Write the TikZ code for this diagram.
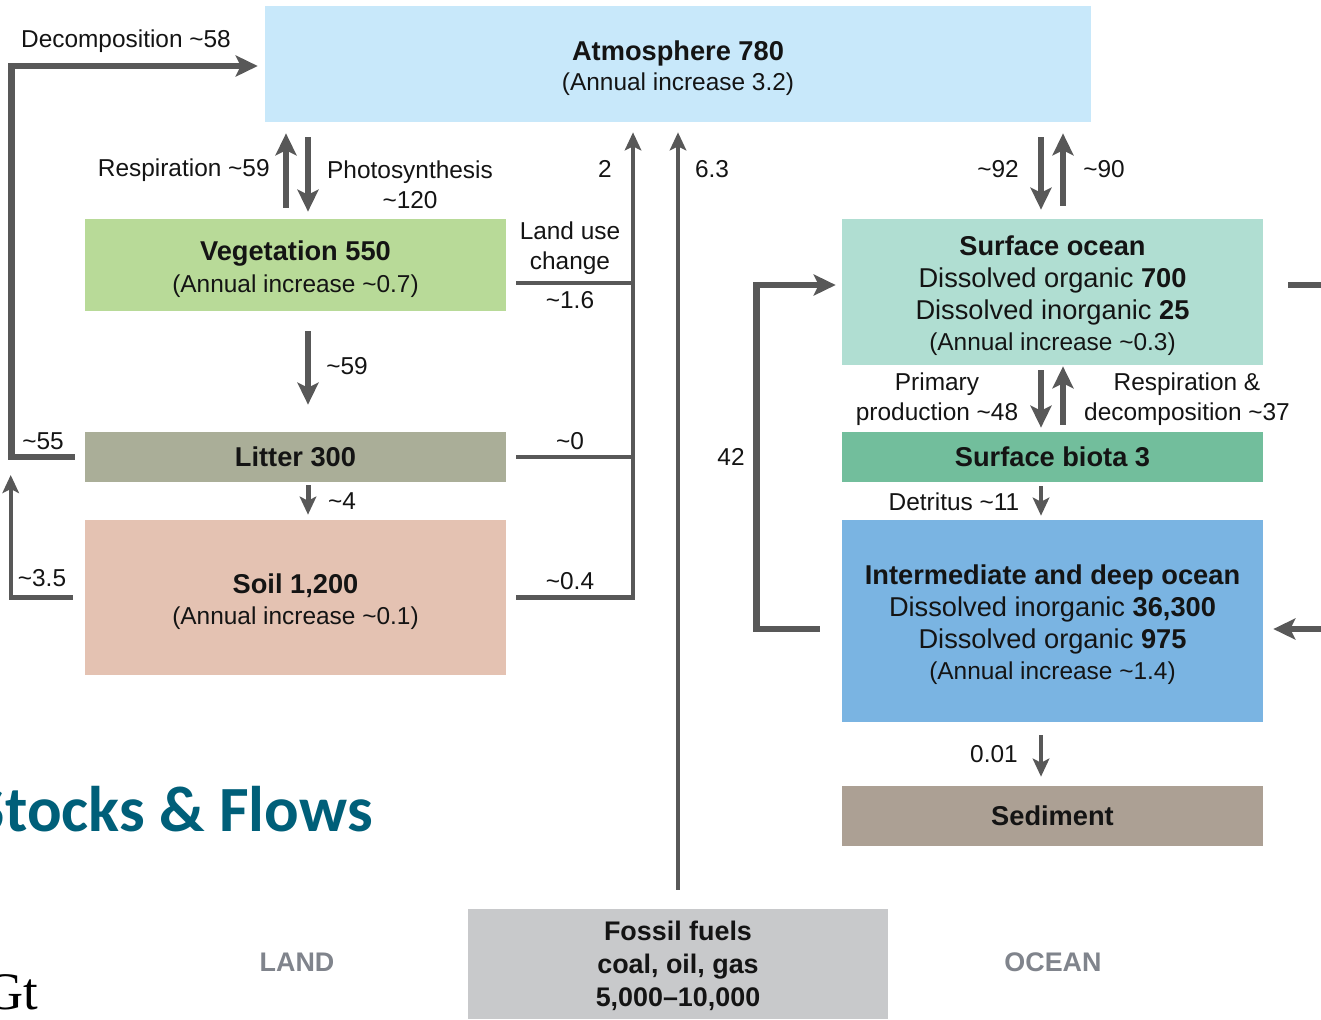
\documentclass[tikz,border=0pt]{standalone}
\usepackage{fontspec}
\setmainfont{Liberation Sans}
\newfontfamily\slidefont{Carlito}
\newfontfamily\unitfont{Liberation Serif}
\usetikzlibrary{arrows.meta, positioning}
\definecolor{CAtm}{RGB}{200,232,250}
\definecolor{CVeg}{RGB}{184,218,152}
\definecolor{CLit}{RGB}{170,174,152}
\definecolor{CSoil}{RGB}{228,194,178}
\definecolor{CSurf}{RGB}{176,222,210}
\definecolor{CBiota}{RGB}{114,190,156}
\definecolor{CDeep}{RGB}{122,180,226}
\definecolor{CSed}{RGB}{172,160,148}
\definecolor{CFossil}{RGB}{200,201,203}
\definecolor{CFlow}{RGB}{88,88,88}
\definecolor{CInk}{RGB}{20,20,20}
\definecolor{CRegion}{RGB}{128,132,140}
\definecolor{CTitle}{RGB}{0,95,121}
\newcommand{\sq}{\textasciitilde}
\newcommand{\hd}{\fontsize{15.5}{18}\selectfont}
\newcommand{\topgap}{\rule{0pt}{15.8pt}}

\begin{document}
\begin{tikzpicture}[
      x=0.02cm, y=-0.02cm,
      pool/.style={rectangle, inner sep=0pt, minimum width=8.42cm, align=center,
                   text=CInk, font=\fontsize{13.9}{18}\selectfont},
      flow/.style={inner sep=0pt, align=center, text=CInk,
                   font=\fontsize{13.9}{16.8}\selectfont},
      region/.style={font=\fontsize{15.3}{18}\selectfont\bfseries, text=CRegion},
      arr/.style={-{Stealth[length=0.44cm, width=0.42cm, inset=0.1cm]}, draw=CFlow, line width=0.13cm},
      arrthin/.style={-{Stealth[length=0.36cm, width=0.33cm, inset=0.08cm]}, draw=CFlow, line width=0.085cm},
      link/.style={draw=CFlow, line width=0.085cm}
    ]
    \useasboundingbox (0,0) rectangle (1321,1019);
    \clip (0,0) rectangle (1321,1019);

    % pools
    \node[pool, fill=CAtm, minimum width=16.52cm, minimum height=2.32cm,
          font=\fontsize{13.9}{17}\selectfont] (atm) at (678,64)
          {\topgap{\hd\bfseries Atmosphere 780}\\(Annual increase 3.2)};
    \node[pool, fill=CVeg, minimum height=1.84cm] (veg) at (295.5,265)
          {\topgap{\hd\bfseries Vegetation 550}\\(Annual increase \sq0.7)};
    \node[pool, fill=CLit, minimum height=1cm] (litter) at (295.5,457)
          {{\hd\bfseries Litter 300}};
    \node[pool, fill=CSoil, minimum height=3.1cm] (soil) at (295.5,597.5)
          {\topgap{\hd\bfseries Soil 1,200}\\(Annual increase \sq0.1)};
    \node[pool, fill=CSurf, minimum height=2.92cm] (socean) at (1052.5,292)
          {\topgap{\hd\bfseries Surface ocean}\\{\hd Dissolved organic \textbf{700}}\\
           {\hd Dissolved inorganic \textbf{25}}\\(Annual increase \sq0.3)};
    \node[pool, fill=CBiota, minimum height=1cm] (biota) at (1052.5,457)
          {{\hd\bfseries Surface biota 3}};
    \node[pool, fill=CDeep, minimum height=4.04cm] (deep) at (1052.5,621)
          {\topgap{\hd\bfseries Intermediate and deep ocean}\\{\hd Dissolved inorganic \textbf{36,300}}\\
           {\hd Dissolved organic \textbf{975}}\\(Annual increase \sq1.4)};
    \node[pool, fill=CSed, minimum height=1.2cm] (sed) at (1052.5,816)
          {{\hd\bfseries Sediment}};
    \node[pool, fill=CFossil, minimum width=8.4cm, minimum height=2.2cm,
          font=\fontsize{15.3}{18.7}\selectfont\bfseries] (fossil) at (678,964)
          {\rule{0pt}{13.5pt}Fossil fuels\\coal, oil, gas\\5,000--10,000};

    % land fluxes
    \coordinate (resp) at ([xshift=-0.19cm]veg.north);
    \coordinate (phot) at ([xshift=0.25cm]veg.north);
    \draw[arr, shorten <=0.22cm, shorten >=0.22cm] (resp) -- (resp |- atm.south);
    \draw[arr, shorten <=0.3cm, shorten >=0.14cm] (phot |- atm.south) -- (phot);
    \draw[arr, shorten <=0.4cm, shorten >=0.54cm] (phot |- veg.south) -- (phot |- litter.north);
    \draw[arrthin, line width=0.1cm, shorten <=0.06cm, shorten >=0.1cm] (phot |- litter.south) -- (phot |- soil.north);
    \draw[arr] ([xshift=-0.2cm]litter.west) -- ++(-1.26cm,0) |- ([xshift=-0.14cm,yshift=-0.04cm]atm.west);
    \draw[arrthin] ([xshift=-0.24cm]soil.west) -- ++(-1.24cm,0) -- ++(0,2.45cm);

    % land use change
    \coordinate (lu) at ([xshift=-0.9cm,yshift=-0.2cm]atm.south);
    \coordinate (vegl) at ([xshift=0.2cm,yshift=-0.36cm]veg.east);
    \draw[arrthin] ([xshift=0.2cm]soil.east) -| (lu);
    \draw[link] ([xshift=0.2cm]litter.east) -- (litter.east -| lu);
    \draw[link] (vegl) -- (vegl -| lu);

    % fossil fuels
    \draw[arrthin] ([yshift=0.38cm]fossil.north) -- ([yshift=-0.2cm]atm.south);

    % ocean fluxes
    \coordinate (odn) at ([xshift=-0.23cm]socean.north);
    \coordinate (oup) at ([xshift=0.21cm]socean.north);
    \draw[arr, shorten <=0.3cm, shorten >=0.18cm] (odn |- atm.south) -- (odn);
    \draw[arr, shorten <=0.26cm, shorten >=0.22cm] (oup) -- (oup |- atm.south);
    \draw[arr, shorten <=0.1cm, shorten >=0.08cm] (odn |- socean.south) -- (odn |- biota.north);
    \draw[arr, shorten <=0.14cm, shorten >=0.02cm] (oup |- biota.north) -- (oup |- socean.south);
    \draw[arrthin, shorten <=0.08cm, shorten >=0.08cm] (odn |- biota.south) -- (odn |- deep.north);
    \draw[arrthin, shorten <=0.26cm, shorten >=0.18cm] (odn |- deep.south) -- (odn |- sed.north);
    \draw[arr] ([xshift=-0.44cm,yshift=-0.16cm]deep.west) -- ++(-1.26cm,0) |- ([xshift=-0.12cm,yshift=0.14cm]socean.west);

    \coordinate (outR) at ([xshift=1.2cm,yshift=0.14cm]socean.east);
    \coordinate (inR)  at ([xshift=1.2cm,yshift=-0.16cm]deep.east);
    \draw[link, line width=0.13cm] ([xshift=0.5cm,yshift=0.14cm]socean.east) -- (outR);
    \draw[arr] (inR) -- ([xshift=0.2cm,yshift=-0.16cm]deep.east);

    % flux labels
    \node[flow] (decomp) at (126,41) {Decomposition \sq58};
    \node[flow, anchor=east] (respl) at (270,170) {Respiration \sq59};
    \node[flow] (photl) at (410,185) {Photosynthesis\\\sq120};
    \node[flow] (lucl) at (570,248) {Land use\\change};
    \node[flow] (priml) at (937,399) {Primary\\production \sq48};
    \node[flow] (rdl) at (1187,399) {Respiration \&\\decomposition \sq37};
    \node[flow] (detl) at (954,502) {Detritus \sq11};
    \foreach \x/\y/\t [count=\i] in {605/169/2, 712/169/6.3, 998/169/{\sq92}, 1104/169/{\sq90},
        570/300/{\sq1.6}, 347/366/{\sq59}, 43/441/{\sq55}, 570/441/{\sq0}, 731/457/42,
        342/501/{\sq4}, 42/578/{\sq3.5}, 570/581/{\sq0.4}, 994/754/0.01}{
      \node[flow] (num\i) at (\x,\y) {\t};
    }

    % regions and slide text
    \node[region] (land) at (297,962) {LAND};
    \node[region] (ocean) at (1053,962) {OCEAN};
    \node[font=\slidefont\fontsize{36.7}{40}\selectfont\bfseries, text=CTitle,
          anchor=base east, inner sep=0pt] (title) at (373,831) {Stocks \& Flows};
    \node[font=\unitfont\fontsize{30}{32}\selectfont, anchor=base east, inner sep=0pt] (unit) at (39,1009) {Gt};
  \end{tikzpicture}
\end{document}
